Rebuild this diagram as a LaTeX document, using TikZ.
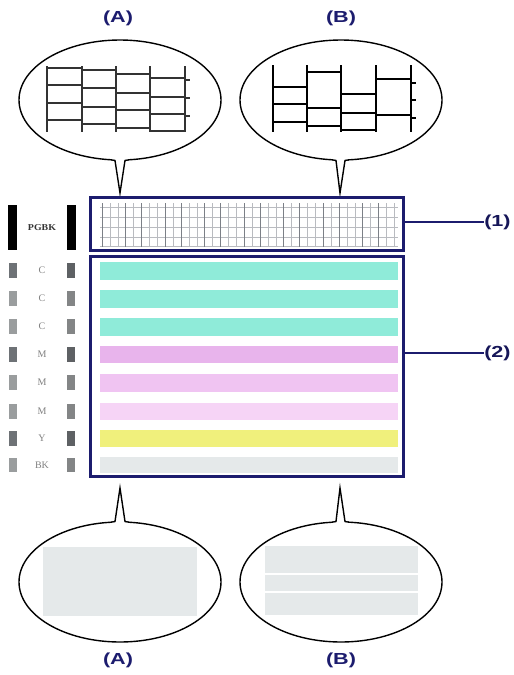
\documentclass[tikz,border=0pt]{standalone}
\usepackage{fontspec}
\setmainfont{Liberation Sans}
\newfontfamily\serifsmall{Liberation Serif}
\definecolor{navy}{HTML}{1C1C6E}
\definecolor{cyanS}{HTML}{8FEBD9}
\definecolor{magA}{HTML}{E8B4EC}
\definecolor{magB}{HTML}{F0C4F2}
\definecolor{magC}{HTML}{F6D4F6}
\definecolor{yelS}{HTML}{F0F07C}
\definecolor{grayS}{HTML}{E5E9EA}
\definecolor{barDark}{HTML}{6E7276}
\definecolor{barLight}{HTML}{9A9D9E}
\definecolor{gridG}{HTML}{8A8E96}
\tikzset{
  lbl/.style={font=\bfseries\fontsize{16}{16}\selectfont, text=navy, xscale=1.35, inner sep=0pt},
  frame/.style={draw=navy, line width=3pt, rectangle, inner sep=0pt},
  bubble/.style={draw=black, line width=1.4pt, fill=white},
  gridA/.style={draw=black!80, line width=2pt},
  gridB/.style={draw=black, line width=2.2pt},
  fine/.style={draw=gridG!60, line width=0.5pt},
  finedark/.style={draw=gridG!90!black, line width=0.8pt},
  tag/.style={font=\serifsmall\fontsize{10}{10}\selectfont, text=black!50, inner sep=0pt},
}
\begin{document}
\begin{tikzpicture}[x=1pt,y=-1pt]
\useasboundingbox (0,0) rectangle (514,675);
% ---------- labels ----------
\node[lbl] (tA) at (118,18) {(A)};
\node[lbl] (tB) at (341,18) {(B)};
\node[lbl] (bA) at (118,660) {(A)};
\node[lbl] (bB) at (341,660) {(B)};
\node[lbl, anchor=west, text=navy!80!black] (l1) at (484,222) {(1)};
\node[lbl, anchor=west, text=navy!80!black] (l2) at (484,353) {(2)};
% ---------- top bubbles ----------
\coordinate (tipA) at (120,193);
\coordinate (tipB) at (340,193);
\draw[bubble] (120,100) ellipse [x radius=101, y radius=60];
\draw[bubble] (341,100) ellipse [x radius=101, y radius=60];
\fill[white] (112,154) rectangle (128,162);
\fill[white] (333,154) rectangle (348,162);
\draw[line width=1.4pt, fill=white, line join=miter] (111,159.8) -- (115,160.5) -- (tipA) -- (125,160.5) -- (129,159.8);
\draw[line width=1.4pt, fill=white, line join=miter] (332,159.8) -- (336,160.5) -- (tipB) -- (345,160.5) -- (349,159.8);
% grid A
\foreach \x in {47,82,116,150,185} \draw[gridA] (\x,66) -- (\x,132);
\foreach \y in {68,85,103,120} \draw[gridA] (47,\y) -- (82,\y);
\foreach \y in {70,88,107,124} \draw[gridA] (82,\y) -- (116,\y);
\foreach \y in {74,93,110,128} \draw[gridA] (116,\y) -- (150,\y);
\foreach \y in {78,97,114,131} \draw[gridA] (150,\y) -- (185,\y);
\foreach \y in {80,98,116} \draw[gridA] (185,\y) -- (190,\y);
% grid B
\foreach \x in {273,307,341,376,411} \draw[gridB] (\x,65) -- (\x,132);
\foreach \y in {87,104,122} \draw[gridB] (273,\y) -- (307,\y);
\foreach \y in {72,108,126} \draw[gridB] (307,\y) -- (341,\y);
\foreach \y in {94,113,130} \draw[gridB] (341,\y) -- (376,\y);
\foreach \y in {79,115} \draw[gridB] (376,\y) -- (411,\y);
\foreach \y in {83,100,118} \draw[gridB] (411,\y) -- (416,\y);
% ---------- main frames ----------
\node[frame, minimum width=313pt, minimum height=53pt] (box1) at (246.5,223.5) {};
\node[frame, minimum width=313pt, minimum height=220pt] (box2) at (246.5,366) {};
% fine grid in box1
\foreach \y in {207,217,227,237,246} \draw[fine] (100,\y) -- (398,\y);
\foreach \i in {0,...,37} {
  \pgfmathsetmacro{\xx}{102+7.9*\i}
  \pgfmathtruncatemacro{\m}{mod(\i*7,5)}
  \ifnum\m<2
    \draw[finedark] (\xx,203) -- (\xx,247);
  \else
    \draw[fine] (\xx,203) -- (\xx,247);
  \fi
}
% stripes
\fill[cyanS] (100,262) rectangle (398,280);
\fill[cyanS] (100,290) rectangle (398,308);
\fill[cyanS] (100,318) rectangle (398,336);
\fill[magA] (100,346) rectangle (398,363);
\fill[magB] (100,374) rectangle (398,392);
\fill[magC] (100,403) rectangle (398,420);
\fill[yelS] (100,430) rectangle (398,447);
\fill[grayS] (100,457) rectangle (398,473);
% connectors to (1),(2)
\draw[navy, line width=2pt] (box1.east |- l1.west) -- (l1.west);
\draw[navy, line width=2pt] (box2.east |- l2.west) -- (l2.west);
% ---------- left nozzle column ----------
\fill[black] (8,205) rectangle (17,250);
\fill[black] (67,205) rectangle (76,250);
\node[font=\serifsmall\bfseries\fontsize{9}{9}\selectfont, text=black!80, inner sep=0pt, xscale=1.1] (pgbk) at (42,228) {PGBK};
\foreach \ya/\yb/\t/\c/\k in {263/278/C/barDark/C1,291/306/C/barLight/C2,319/334/C/barLight/C3,347/362/M/barDark/M1,375/390/M/barLight/M2,404/419/M/barLight/M3,431/446/Y/barDark/Y1,458/472/BK/barLight/BK1} {
  \fill[\c] (9,\ya) rectangle (17,\yb);
  \fill[\c!85!black] (67,\ya) rectangle (75,\yb);
  \node[tag] (\k) at (42,{(\ya+\yb)/2}) {\t};
}
% ---------- bottom bubbles ----------
\coordinate (btipA) at (120,488);
\coordinate (btipB) at (340,488);
\draw[bubble] (120,582) ellipse [x radius=101, y radius=60];
\draw[bubble] (341,582) ellipse [x radius=101, y radius=60];
\fill[white] (112,519) rectangle (128,527);
\fill[white] (333,519) rectangle (348,527);
\draw[line width=1.4pt, fill=white, line join=miter] (111,522.2) -- (115,521.5) -- (btipA) -- (125,521.5) -- (129,522.2);
\draw[line width=1.4pt, fill=white, line join=miter] (332,522.2) -- (336,521.5) -- (btipB) -- (345,521.5) -- (349,522.2);
\fill[grayS] (43,547) rectangle (197,616);
\fill[grayS] (265,546) rectangle (418,615);
\draw[white, line width=2pt] (265,574) -- (418,574);
\draw[white, line width=2pt] (265,592) -- (418,592);
\end{tikzpicture}
\end{document}
